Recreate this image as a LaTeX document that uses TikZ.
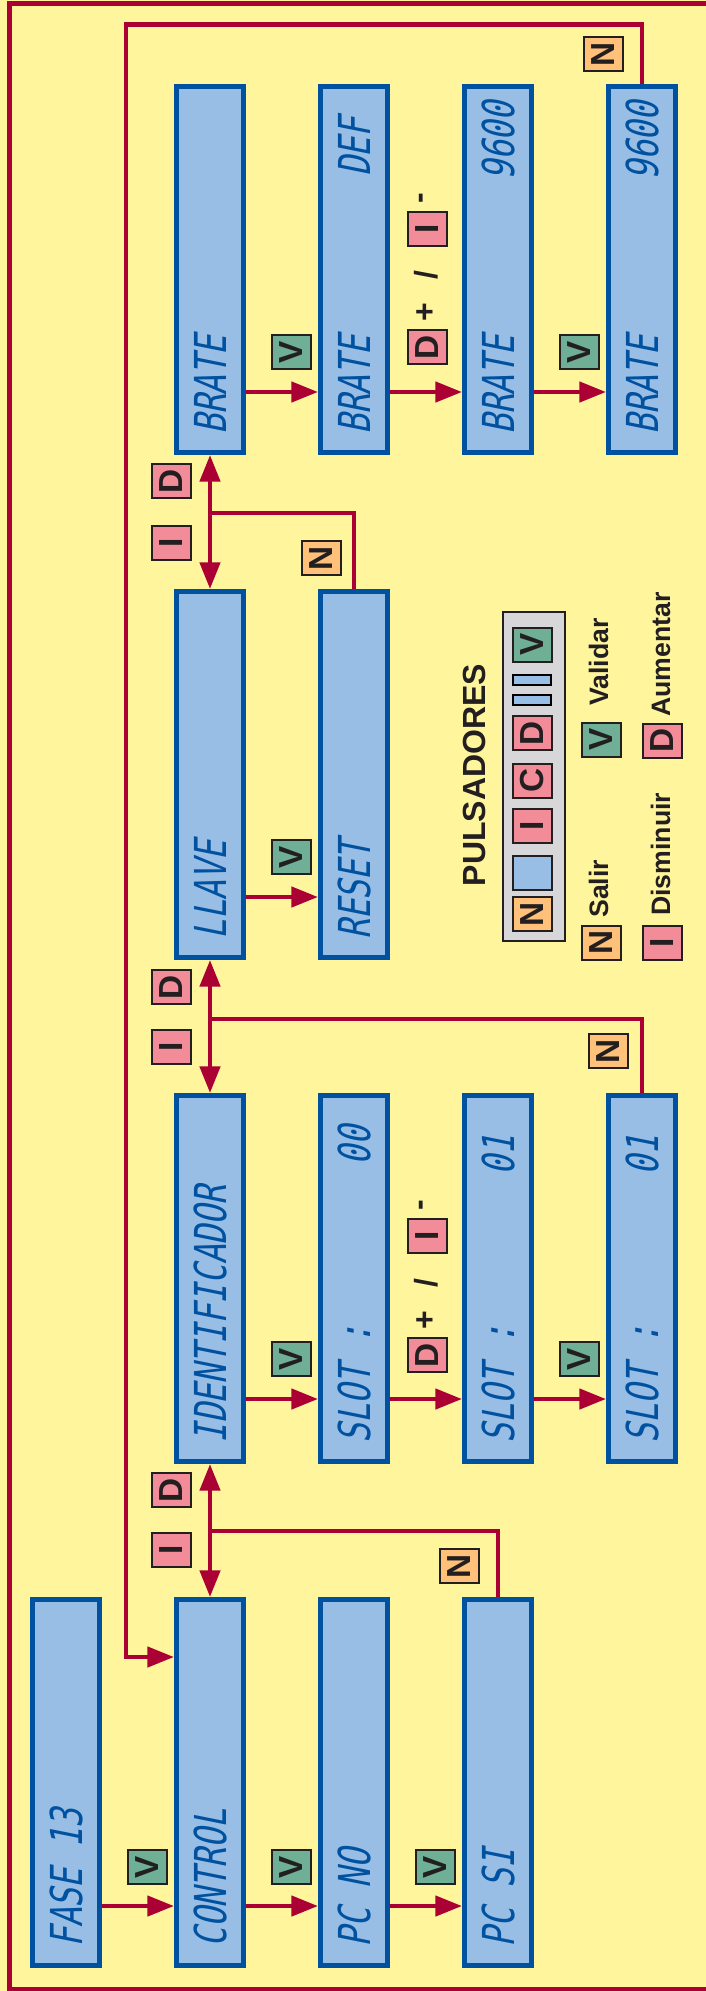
\documentclass[tikz,border=0pt]{standalone}
\usepackage{fontspec}
\setmainfont{Liberation Sans}
\newfontfamily\lcdfont{DejaVu Sans Mono}[FakeStretch=0.75,FakeSlant=0.2]
\usetikzlibrary{arrows.meta}
\definecolor{bgyellow}{HTML}{FFF59D}
\definecolor{wirered}{HTML}{AA0033}
\definecolor{lcdblue}{HTML}{98BEE6}
\definecolor{lcdedge}{HTML}{0052A0}
\definecolor{keygreen}{HTML}{6EAF96}
\definecolor{keyorange}{HTML}{FFC07A}
\definecolor{keypink}{HTML}{F28C98}
\definecolor{keyedge}{HTML}{231F20}
\definecolor{panelgray}{HTML}{D7D7D9}
\begin{document}
\begin{tikzpicture}[x=0.75pt,y=-0.75pt,
  lcd/.style = {rectangle,draw=lcdedge,fill=lcdblue,line width=4pt,minimum width=50pt,minimum height=274.25pt,inner sep=0pt},
  lcdtxt/.style = {rotate=90,inner sep=0pt,text=lcdedge,font=\lcdfont\fontsize{33}{33}\selectfont},
  btn/.style = {rectangle,rotate=90,draw=keyedge,line width=1.5pt,minimum width=25.5pt,minimum height=29.25pt,inner sep=0pt,text=keyedge,font=\bfseries\fontsize{25}{25}\selectfont},
  sign/.style = {rotate=90,inner sep=0pt,text=keyedge,font=\bfseries\fontsize{24}{24}\selectfont},
  keytxt/.style = {rotate=90,inner sep=0pt,anchor=base west,text=keyedge,font=\bfseries\fontsize{20}{20}\selectfont},
  wire/.style = {draw=wirered,line width=3.4pt},
  flow/.style = {wire,-{Triangle[length=20pt,width=15pt]}},
  twoway/.style = {wire,{Triangle[length=20pt,width=15pt]}-{Triangle[length=20pt,width=15pt]}}]
\useasboundingbox (0,0) rectangle (706,1991);
\fill[bgyellow] (0,0) rectangle (706,1991);
\draw[wirered,line width=3.75pt] (720,3.5) -| (9.5,1989.5) -- (720,1989.5);

\foreach \n/\x/\y in {fase/66/1782.5,ctrl/210/1782.5,pcno/354/1782.5,pcsi/498/1782.5,
  ident/210/1278.5,slot0/354/1278.5,slot1/498/1278.5,slot2/642/1278.5,
  llave/210/774.5,reset/354/774.5,
  brate/210/269.5,bdef/354/269.5,b96/498/269.5,b96b/642/269.5}
  \node[lcd] (\n) at (\x,\y) {};

\foreach \n/\x/\y/\t in {fase/66/1948/FASE 13,ctrl/210/1948/CONTROL,pcno/354/1948/PC NO,pcsi/498/1948/PC SI,
  ident/210/1444/IDENTIFICADOR,slot0/354/1444/SLOT :,slot1/498/1444/SLOT :,slot2/642/1444/SLOT :,
  llave/210/940/LLAVE,reset/354/940/RESET,
  brate/210/435/BRATE,bdef/354/435/BRATE,b96/498/435/BRATE,b96b/642/435/BRATE}
  \node[lcdtxt,anchor=west] (\n-lo) at (\x,\y) {\t};
\foreach \n/\x/\y/\t in {slot0/354/1125/00,slot1/498/1135/01,slot2/642/1135/01,
  bdef/354/117/DEF,b96/498/101/9600,b96b/642/101/9600}
  \node[lcdtxt,anchor=east] (\n-hi) at (\x,\y) {\t};

\coordinate (ra) at (0,1906);
\coordinate (rb) at (0,1399);
\coordinate (rc) at (0,897);
\coordinate (rd) at (0,392);
\foreach \a/\b/\r in {fase/ctrl/ra,ctrl/pcno/ra,pcno/pcsi/ra,ident/slot0/rb,slot0/slot1/rb,slot1/slot2/rb,
  llave/reset/rc,brate/bdef/rd,bdef/b96/rd,b96/b96b/rd}
  \draw[flow] (\a.east |- \r) -- (\b.west |- \r);

\foreach \n/\x/\y/\c/\k in {va1/147/1867/keygreen/V,va2/291/1867/keygreen/V,va3/435/1867/keygreen/V,
  vb1/291/1359/keygreen/V,vb3/579/1359/keygreen/V,vc1/291/857/keygreen/V,
  vd1/291/352/keygreen/V,vd3/579/352/keygreen/V,
  dab/171.5/1490/keypink/D,iab/171.5/1550/keypink/I,
  dbc/171.5/987/keypink/D,ibc/171.5/1047/keypink/I,
  dcd/171.5/481/keypink/D,icd/171.5/543/keypink/I,
  ntop/603/54/keyorange/N,nab/459/1566/keyorange/N,nbc/608/1051/keyorange/N,ncd/321/558/keyorange/N}
  \node[btn,fill=\c] (\n) at (\x,\y) {\k};

\node[btn,fill=keypink] (incb) at (427,1355) {D};
\node[sign] (plusb) at (426,1320) {+};
\node[sign] (orb) at (426,1283) {/};
\node[btn,fill=keypink] (decb) at (427,1236) {I};
\node[sign] (minusb) at (424,1205) {-};
\node[btn,fill=keypink] (incd) at (427,347) {D};
\node[sign] (plusd) at (426,312) {+};
\node[sign] (ord) at (426,275) {/};
\node[btn,fill=keypink] (decd) at (427,229) {I};
\node[sign] (minusd) at (424,198) {-};

\coordinate (jab) at (210,1531);
\coordinate (jbc) at (210,1019);
\coordinate (jcd) at (210,513);
\draw[twoway] (ctrl.north) -- (ident.south);
\draw[twoway] (ident.north) -- (llave.south);
\draw[twoway] (llave.north) -- (brate.south);
\draw[wire] (pcsi.north) |- (jab);
\draw[wire] (slot2.north) |- (jbc);
\draw[wire] (reset.north) |- (jcd);
\coordinate (ltop) at (126,24.5);
\coordinate (lin) at (0,1657);
\draw[flow] (b96b.north) |- (ltop) |- (ctrl.west |- lin);

\node[rotate=90,inner sep=0pt,text=keyedge,font=\bfseries\fontsize{24}{24}\selectfont] (title) at (474.5,775) {PULSADORES};
\node[rectangle,draw=keyedge,fill=panelgray,line width=1.5pt,minimum width=46.5pt,minimum height=246.75pt] (panel) at (534,776.5) {};
\foreach \n/\y/\c/\k in {pv/644.5/keygreen/V,pd/733/keypink/D,pc/780.5/keypink/C,pi/825.5/keypink/I,pn/914/keyorange/N}
  \node[btn,fill=\c] (\n) at (532,\y) {\k};
\node[btn,fill=lcdblue] (pblank) at (532,872.5) {};
\foreach \n/\y in {bar1/680,bar2/700}
  \node[rectangle,draw=black,fill=lcdblue,line width=1.5pt,minimum width=28.5pt,minimum height=7.5pt,inner sep=0pt] (\n) at (532,\y) {};

\node[btn,fill=keyorange] (ln) at (601.5,942.5) {N};
\node[btn,fill=keygreen] (lv) at (601.5,739.5) {V};
\node[btn,fill=keypink] (li) at (662.5,942.5) {I};
\node[btn,fill=keypink] (ld) at (662.5,740.5) {D};
\node[keytxt] (ln-t) at (608,918) {Salir};
\node[keytxt] (lv-t) at (608,706) {Validar};
\node[keytxt] (li-t) at (670,916) {Disminuir};
\node[keytxt] (ld-t) at (670,717) {Aumentar};
\end{tikzpicture}
\end{document}
